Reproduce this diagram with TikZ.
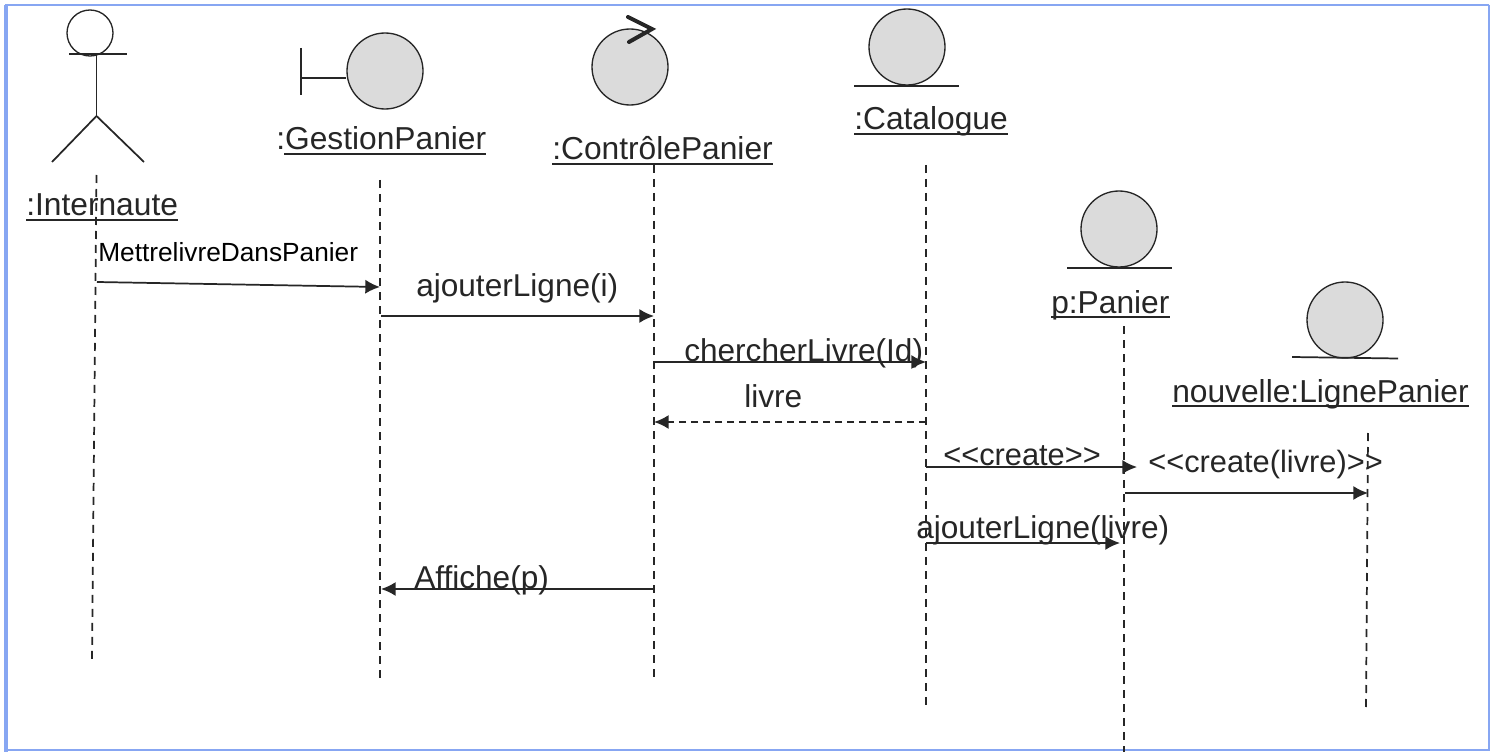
\documentclass[tikz,border=0pt]{standalone}
\usepackage{fontspec}
\setmainfont{Liberation Sans}
\usepackage{tikz}
\usetikzlibrary{arrows.meta}
\usetikzlibrary{positioning}
\definecolor{framecolor}{rgb}{0.53,0.65,0.95}
\definecolor{ballcolor}{rgb}{0.86,0.86,0.86}
\definecolor{inkcolor}{rgb}{0.15,0.15,0.15}
\tikzset{
  ball/.style={circle,draw=inkcolor,line width=1pt,fill=ballcolor,minimum size=57pt,inner sep=0pt},
  head/.style={circle,draw=inkcolor,line width=1pt,minimum size=34.5pt,inner sep=0pt},
  stroke/.style={draw=inkcolor,line width=1.3pt},
  lifeline/.style={draw=inkcolor,line width=1.3pt,dash pattern={on 6pt off 4.5pt}},
  msg/.style={draw=inkcolor,line width=1.3pt,-{Latex[length=11pt,width=10.5pt]}},
  backmsg/.style={msg,dash pattern={on 5pt off 4pt}},
  objname/.style={anchor=base west,inner sep=0pt,text depth=3pt,text=inkcolor,font=\fontsize{23.8}{28}\selectfont},
  msgname/.style={anchor=base west,inner sep=0pt,text=inkcolor,font=\fontsize{23.7}{28}\selectfont},
  createname/.style={msgname,font=\fontsize{23.1}{28}\selectfont},
  smallname/.style={anchor=base west,inner sep=0pt,text=black,font=\fontsize{19.7}{24}\selectfont}
}

\begin{document}
\begin{tikzpicture}[x=0.75pt,y=0.75pt,yscale=-1,xscale=1]
\useasboundingbox (0,0) rectangle (1494,752);
\fill[white] (0,0) rectangle (1494,752);

%Frame
\draw [framecolor,line width=1.2pt] (1489,5) -- (5,5) ;
\draw [framecolor,line width=3pt] (6,5) -- (6,752) ;
\draw [framecolor,line width=1.2pt] (1489,5) -- (1489,750) -- (5,750) ;

%Lifeline ends
\coordinate (internauteTop) at (96.5,175);
\coordinate (internauteEnd) at (92,660);
\coordinate (gestionTop) at (380,180);
\coordinate (gestionEnd) at (380,678);
\coordinate (controleTop) at (654,165);
\coordinate (controleEnd) at (654,678);
\coordinate (catalogueTop) at (926,165);
\coordinate (catalogueEnd) at (926,706);
\coordinate (panierTop) at (1124,326);
\coordinate (panierEnd) at (1124,752);
\coordinate (ligneTop) at (1368,433);
\coordinate (ligneEnd) at (1366,708);

%Message ends
\coordinate (mettreA) at (97,282);
\coordinate (mettreB) at (380,287);
\coordinate (ajouterA) at (381,316);
\coordinate (ajouterB) at (654,316);
\coordinate (chercherA) at (654,362);
\coordinate (chercherB) at (926,362);
\coordinate (livreA) at (926,422);
\coordinate (livreB) at (654,422);
\coordinate (createA) at (926,467);
\coordinate (createB) at (1137,467);
\coordinate (createLivreA) at (1125,493);
\coordinate (createLivreB) at (1368,493);
\coordinate (ajouterLivreA) at (926,543);
\coordinate (ajouterLivreB) at (1120,543);
\coordinate (afficheA) at (654,589);
\coordinate (afficheB) at (381,589);

%Lifelines
\draw [lifeline] (internauteTop) -- (internauteEnd) ;
\draw [lifeline] (gestionTop) -- (gestionEnd) ;
\draw [lifeline] (controleTop) -- (controleEnd) ;
\draw [lifeline] (catalogueTop) -- (catalogueEnd) ;
\draw [lifeline] (panierTop) -- (panierEnd) ;
\draw [lifeline] (ligneTop) -- (ligneEnd) ;

%Actor
\node [head] (internauteHead) at (90,33) {};
\coordinate (neck) at (96.5,54);
\coordinate (hip) at (96.5,116);
\draw [stroke] (69,54) -- (127,54) ;
\draw [stroke] (neck) -- (hip) ;
\draw [stroke] (hip) -- (52,162) ;
\draw [stroke] (hip) -- (144,162) ;

%Boundary
\node [ball] (gestionBall) at (385,71) {};
\draw [stroke] (gestionBall.west |- 0,78) -- (301,78) ;
\draw [stroke] (301,48) -- (301,95) ;

%Control
\node [ball] (controleBall) at (630,67) {};
\draw [line width=3pt,inkcolor,line cap=round] (628,17) -- (652,29) -- (629,42) ;

%Entities
\node [ball] (catalogueBall) at (907,47) {};
\draw [stroke] (catalogueBall.south) ++(-53,0) -- ++(105,0) ;
\node [ball] (panierBall) at (1119,229) {};
\draw [stroke] (panierBall.south) ++(-52,0) -- ++(105,0) ;
\node [ball] (ligneBall) at (1345,320) {};
\draw [stroke] (1292,357) -- (1398,358.5) ;

%Messages
\draw [msg] (mettreA) -- (mettreB) ;
\draw [msg] (ajouterA) -- (ajouterB) ;
\draw [msg] (chercherA) -- (chercherB) ;
\draw [backmsg] (livreA) -- (livreB) ;
\draw [msg] (createA) -- (createB) ;
\draw [msg] (createLivreA) -- (createLivreB) ;
\draw [msg] (ajouterLivreA) -- (ajouterLivreB) ;
\draw [msg] (afficheA) -- (afficheB) ;

% Text Node
\node [objname] (internauteName) at (26,216) {:Internaute};
\draw [stroke] (internauteName.south west) -- (internauteName.south east) ;
% Text Node
\node [objname] (gestionName) at (276,150) {:GestionPanier};
\draw [stroke] (gestionName.south west) ++(8,0) -- (gestionName.south east) ;
% Text Node
\node [objname] (controleName) at (552,160) {:ContrôlePanier};
\draw [stroke] (controleName.south west) -- (controleName.south east) ;
% Text Node
\node [objname] (catalogueName) at (854,130) {:Catalogue};
\draw [stroke] (catalogueName.south west) -- (catalogueName.south east) ;
% Text Node
\node [objname] (panierName) at (1051,313) {p:Panier};
\draw [stroke] (panierName.south west) -- (panierName.south east) ;
% Text Node
\node [objname] (ligneName) at (1172,402) {nouvelle:LignePanier};
\draw [stroke] (ligneName.south west) -- (ligneName.south east) ;
% Text Node
\node [smallname] (mettreName) at (98,262) {MettrelivreDansPanier};
% Text Node
\node [msgname] (ajouterName) at (416,296) {ajouterLigne(i)};
% Text Node
\node [msgname] (chercherName) at (684,361) {chercherLivre(Id)};
% Text Node
\node [msgname] (livreName) at (744,407) {livre};
% Text Node
\node [createname] (createName) at (943,465) {<{}<create>{}>};
% Text Node
\node [createname] (createLivreName) at (1148,472) {<{}<create(livre)>{}>};
% Text Node
\node [msgname] (ajouterLivreName) at (916,538) {ajouterLigne(livre)};
% Text Node
\node [msgname] (afficheName) at (414,588) {Affiche(p)};

\end{tikzpicture}
\end{document}
